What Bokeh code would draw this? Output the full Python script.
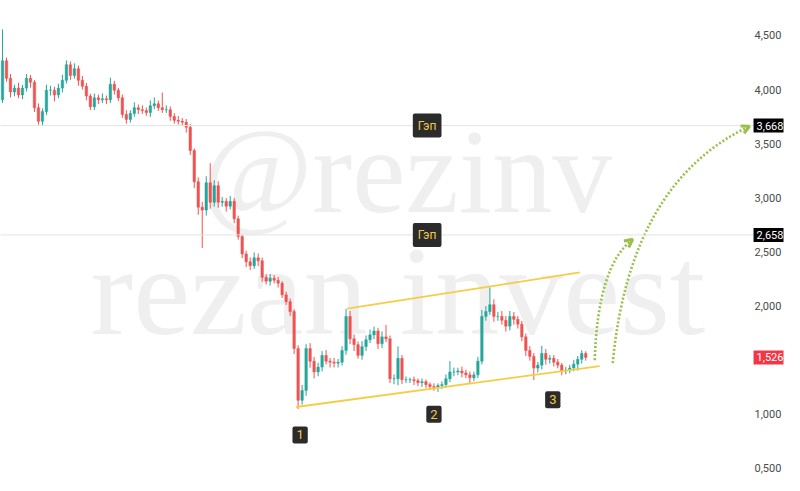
from bokeh.plotting import figure
from bokeh.models import ColumnDataSource, FixedTicker, Span, Label, Arrow, OpenHead
from bokeh.core.properties import value
from bokeh.embed import file_html
from bokeh.resources import INLINE

# ---- data (price, thousands shown with comma decimals) ----
first_open = 3.906
closes = [
    4.266, 4.104, 3.978, 4.014, 3.951, 4.014, 4.104, 4.068, 3.833, 3.707,
    3.797, 3.995, 3.995, 3.951, 4.014, 4.086, 4.230, 4.131, 4.193, 4.086,
    4.031, 3.941, 3.842, 3.924, 3.906, 3.915, 3.906, 4.050, 3.995, 3.924,
    3.770, 3.725, 3.779, 3.833, 3.815, 3.806, 3.788, 3.851, 3.869, 3.833,
    3.815, 3.815, 3.752, 3.716, 3.707, 3.698, 3.653, 3.437, 3.149, 2.914,
    2.887, 3.140, 2.959, 3.113, 2.959, 2.968, 2.923, 2.968, 2.806, 2.644,
    2.482, 2.410, 2.374, 2.446, 2.419, 2.266, 2.230, 2.257, 2.239, 2.212,
    2.104, 2.041, 1.950, 1.608, 1.130, 1.221, 1.608, 1.491, 1.392, 1.437,
    1.545, 1.491, 1.482, 1.473, 1.482, 1.590, 1.905, 1.698, 1.644, 1.545,
    1.626, 1.689, 1.734, 1.770, 1.653, 1.716, 1.698, 1.329, 1.329, 1.518,
    1.320, 1.320, 1.320, 1.311, 1.293, 1.302, 1.275, 1.257, 1.248, 1.266,
    1.275, 1.329, 1.392, 1.392, 1.401, 1.383, 1.365, 1.338, 1.365, 1.491,
    1.905, 1.950, 2.013, 1.905, 1.905, 1.869, 1.815, 1.905, 1.878, 1.833,
    1.716, 1.590, 1.536, 1.428, 1.455, 1.563, 1.509, 1.518, 1.482, 1.455,
    1.401, 1.410, 1.428, 1.464, 1.509, 1.563, 1.526,
]
wick_up = [
    0.29, 0.03, 0.04, 0.03, 0.05, 0.03, 0.04, 0.03, 0.02, 0.04,
    0.03, 0.05, 0.04, 0.03, 0.04, 0.05, 0.04, 0.03, 0.05, 0.03,
    0.04, 0.03, 0.02, 0.04, 0.03, 0.05, 0.03, 0.06, 0.03, 0.02,
    0.03, 0.04, 0.03, 0.05, 0.03, 0.04, 0.03, 0.05, 0.06, 0.03,
    0.14, 0.04, 0.03, 0.03, 0.04, 0.03, 0.03, 0.03, 0.02, 0.04,
    0.05, 0.06, 0.18, 0.05, 0.04, 0.04, 0.03, 0.05, 0.03, 0.03,
    0.02, 0.03, 0.04, 0.05, 0.04, 0.03, 0.03, 0.04, 0.03, 0.03,
    0.02, 0.03, 0.03, 0.02, 0.03, 0.05, 0.04, 0.05, 0.04, 0.04,
    0.04, 0.05, 0.03, 0.04, 0.03, 0.04, 0.07, 0.05, 0.04, 0.03,
    0.05, 0.04, 0.05, 0.04, 0.03, 0.05, 0.11, 0.03, 0.04, 0.11,
    0.03, 0.03, 0.02, 0.03, 0.02, 0.03, 0.02, 0.02, 0.03, 0.02,
    0.03, 0.04, 0.10, 0.04, 0.03, 0.04, 0.03, 0.03, 0.03, 0.04,
    0.06, 0.05, 0.16, 0.05, 0.04, 0.05, 0.04, 0.05, 0.04, 0.03,
    0.03, 0.03, 0.04, 0.03, 0.03, 0.07, 0.04, 0.03, 0.03, 0.03,
    0.02, 0.03, 0.03, 0.04, 0.03, 0.03, 0.02,
]
wick_down = [
    0.03, 0.03, 0.05, 0.04, 0.03, 0.04, 0.03, 0.05, 0.04, 0.03,
    0.04, 0.03, 0.05, 0.06, 0.03, 0.04, 0.03, 0.04, 0.03, 0.05,
    0.03, 0.04, 0.03, 0.03, 0.04, 0.03, 0.04, 0.03, 0.04, 0.03,
    0.03, 0.04, 0.03, 0.03, 0.04, 0.03, 0.03, 0.04, 0.03, 0.03,
    0.03, 0.03, 0.04, 0.03, 0.03, 0.03, 0.05, 0.04, 0.06, 0.07,
    0.35, 0.05, 0.06, 0.04, 0.05, 0.04, 0.05, 0.03, 0.04, 0.03,
    0.04, 0.05, 0.04, 0.03, 0.05, 0.04, 0.03, 0.04, 0.03, 0.04,
    0.03, 0.03, 0.04, 0.05, 0.08, 0.04, 0.05, 0.06, 0.06, 0.04,
    0.04, 0.03, 0.05, 0.04, 0.04, 0.03, 0.04, 0.05, 0.06, 0.03,
    0.04, 0.04, 0.03, 0.04, 0.05, 0.04, 0.03, 0.04, 0.05, 0.06,
    0.04, 0.03, 0.03, 0.04, 0.03, 0.04, 0.03, 0.03, 0.03, 0.04,
    0.03, 0.03, 0.03, 0.04, 0.03, 0.04, 0.03, 0.05, 0.03, 0.03,
    0.03, 0.04, 0.03, 0.05, 0.04, 0.04, 0.05, 0.04, 0.05, 0.04,
    0.04, 0.05, 0.04, 0.11, 0.04, 0.04, 0.05, 0.04, 0.04, 0.03,
    0.04, 0.03, 0.03, 0.03, 0.06, 0.04, 0.03,
]
tick_values = [0.5, 1.0, 2.0, 2.5, 3.0, 3.5, 4.0, 4.5]
tick_labels = ["0,500", "1,000", "2,000", "2,500", "3,000", "3,500", "4,000", "4,500"]
gap_levels = [3.668, 2.658]
gap_texts = ["3,668", "2,658"]
last_price = 1.526
last_text = "1,526"

# annotation drawings (candle index, price)
lower_trend = ([73.5, 149.5], [1.068, 1.446])
upper_trend = ([86.25, 144.5], [1.977, 2.311])
arrow1 = dict(x0=148.25, y0=1.50, cx=149.0, cy=2.374, x1=157.75, y1=2.617)
arrow2 = dict(x0=152.75, y0=1.473, cx=157.0, cy=3.140, x1=187.0, y1=3.662)
wave_labels = ["1", "2", "3"]
wave_x = [74.5, 108.0, 137.75]
wave_y = [0.81, 1.00, 1.135]

UP = "#26a69a"
DOWN = "#ef5350"
YELLOW = "#f5cd45"
GREEN = "#98c04a"

opens = [first_open] + closes[:-1]
idx = list(range(len(closes)))
tops = [max(o, c) for o, c in zip(opens, closes)]
bots = [min(o, c) for o, c in zip(opens, closes)]
highs = [t + w for t, w in zip(tops, wick_up)]
lows = [b - w for b, w in zip(bots, wick_down)]
colors = [UP if c >= o else DOWN for o, c in zip(opens, closes)]
src = ColumnDataSource(dict(x=idx, top=tops, bottom=bots, high=highs, low=lows, color=colors))

p = figure(width=784, height=475, output_backend="svg", toolbar_location=None,
           x_range=(-0.5, 195.5), y_range=(0.4353, 4.8233),
           x_axis_location=None, y_axis_location="right",
           min_border_left=0, min_border_top=0, min_border_bottom=0, min_border_right=0)
p.outline_line_color = None
p.grid.visible = False
p.background_fill_color = "white"

# watermark
p.text(x=[101.25], y=[3.244], text=["@rezinv"], text_font=value("Liberation Serif"),
       text_font_size="120px", text_color="#efefef", text_align="center", text_baseline="alphabetic")
p.text(x=[99.0], y=[2.142], text=["rezan invest"], text_font=value("Liberation Serif"),
       text_font_size="128px", text_color="#efefef", text_align="center", text_baseline="alphabetic")

for lvl in gap_levels:
    p.add_layout(Span(location=lvl, dimension="width", line_color="#e4e4e4", line_width=1))

# candles
p.segment(x0="x", y0="low", x1="x", y1="high", color="color", line_width=1, source=src)
p.vbar(x="x", top="top", bottom="bottom", width=0.62, fill_color="color", line_color="color",
       line_width=0.5, source=src)

# trend lines
p.line(lower_trend[0], lower_trend[1], line_color=YELLOW, line_width=1.8)
p.line(upper_trend[0], upper_trend[1], line_color=YELLOW, line_width=1.8)

# dotted arrows
for a in (arrow1, arrow2):
    p.quadratic(x0=[a["x0"]], y0=[a["y0"]], x1=[a["x1"]], y1=[a["y1"]], cx=[a["cx"]], cy=[a["cy"]],
                line_color=GREEN, line_width=2.6, line_dash="2 2")
p.add_layout(Arrow(x_start=156.5, y_start=2.582, x_end=arrow1["x1"], y_end=arrow1["y1"], line_alpha=0,
                   end=OpenHead(size=8, line_color=GREEN, line_width=3)))
p.add_layout(Arrow(x_start=184.5, y_start=3.619, x_end=arrow2["x1"], y_end=arrow2["y1"], line_alpha=0,
                   end=OpenHead(size=8, line_color=GREEN, line_width=3)))

# gap labels
for lvl in gap_levels:
    p.add_layout(Label(x=106.3, y=lvl, text="Гэп", text_align="center", text_baseline="middle",
                       text_font="Roboto", text_font_size="12px", text_color="#f0c94a",
                       background_fill_color="#2b2b2b", padding=5, border_radius=2))

# wave numbers
for t, xx, yy in zip(wave_labels, wave_x, wave_y):
    p.add_layout(Label(x=xx, y=yy, text=t, text_align="center", text_baseline="middle",
                       text_font="Roboto", text_font_size="13px", text_color="#f0c94a",
                       background_fill_color="#2b2b2b", padding=4, border_radius=2))

# y axis (labels drawn just inside the right edge, as in the reference)
ax = p.yaxis[0]
ax.ticker = FixedTicker(ticks=tick_values)
ax.major_label_overrides = {v: s for v, s in zip(tick_values, tick_labels)}
ax.axis_line_color = None
ax.major_tick_line_color = None
ax.minor_tick_line_color = None
ax.major_tick_in = 0
ax.major_tick_out = 0
ax.minor_tick_in = 0
ax.minor_tick_out = 0
ax.major_label_standoff = -29
ax.major_label_text_font = "Roboto"
ax.major_label_text_font_size = "11px"
ax.major_label_text_color = "#4a4a4a"

# price badges
for lvl, txt in zip(gap_levels, gap_texts):
    p.add_layout(Label(x=188.0, y=lvl, text=txt, text_align="left", text_baseline="middle",
                       text_font="Roboto", text_font_size="11px", text_color="white",
                       background_fill_color="#000000", padding=3))
p.add_layout(Label(x=188.0, y=last_price, text=last_text, text_align="left",
                   text_baseline="middle", text_font="Roboto", text_font_size="11px", text_color="white",
                   background_fill_color="#f23645", padding=3))

open("out.html", "w").write(file_html(p, INLINE))
